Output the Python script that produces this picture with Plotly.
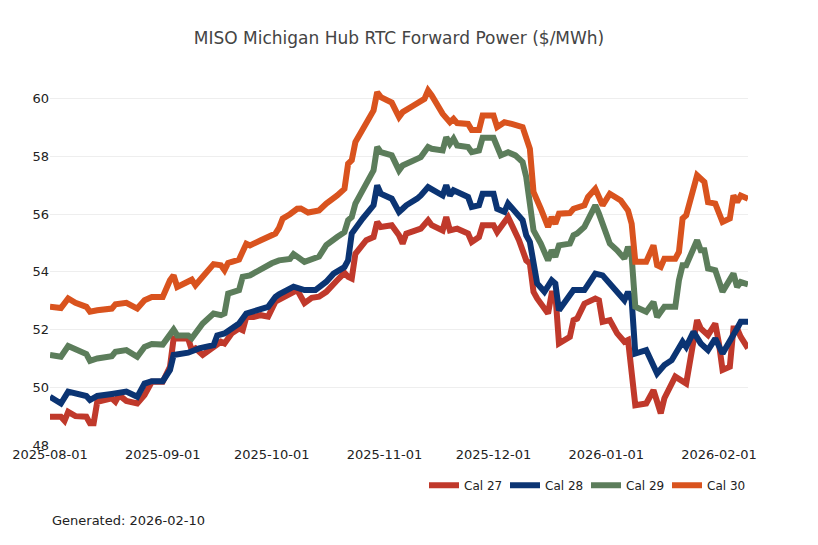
import plotly.graph_objects as go

# ---- data ----
dates_cal27 = ["2025-08-01","2025-08-04","2025-08-05","2025-08-06","2025-08-08","2025-08-11","2025-08-12","2025-08-13",
    "2025-08-14","2025-08-18","2025-08-19","2025-08-20","2025-08-22","2025-08-25","2025-08-27","2025-08-29",
    "2025-09-01","2025-09-03","2025-09-04","2025-09-08","2025-09-09","2025-09-10","2025-09-12","2025-09-15",
    "2025-09-17","2025-09-18","2025-09-20","2025-09-22","2025-09-23","2025-09-24","2025-09-26","2025-09-28",
    "2025-09-30","2025-10-02","2025-10-06","2025-10-08","2025-10-10","2025-10-12","2025-10-14","2025-10-16",
    "2025-10-19","2025-10-21","2025-10-22","2025-10-23","2025-10-24","2025-10-27","2025-10-29","2025-10-30",
    "2025-10-31","2025-11-03","2025-11-05","2025-11-06","2025-11-07","2025-11-11","2025-11-13","2025-11-14",
    "2025-11-17","2025-11-18","2025-11-19","2025-11-21","2025-11-24","2025-11-25","2025-11-27","2025-11-28",
    "2025-12-01","2025-12-02","2025-12-05","2025-12-08","2025-12-10","2025-12-11","2025-12-12","2025-12-13",
    "2025-12-16","2025-12-17","2025-12-18","2025-12-19","2025-12-22","2025-12-23","2025-12-24","2025-12-26",
    "2025-12-29","2025-12-30","2025-12-31","2026-01-02","2026-01-04","2026-01-06","2026-01-07","2026-01-09",
    "2026-01-12","2026-01-14","2026-01-16","2026-01-17","2026-01-20","2026-01-22","2026-01-23","2026-01-26",
    "2026-01-27","2026-01-29","2026-01-31","2026-02-01","2026-02-02","2026-02-04","2026-02-05","2026-02-06",
    "2026-02-07","2026-02-09"]
cal27 = [48.98,48.98,48.84,49.15,49.00,48.98,48.75,48.75,
    49.50,49.62,49.50,49.73,49.53,49.44,49.73,50.19,
    50.19,50.71,51.69,51.69,51.29,51.35,51.12,51.40,
    51.58,51.52,51.87,52.04,51.98,52.44,52.44,52.50,
    52.45,52.97,53.20,53.37,52.92,53.10,53.14,53.31,
    53.71,53.97,53.83,53.77,54.63,55.10,55.21,55.73,
    55.56,55.62,55.27,54.98,55.33,55.50,55.79,55.62,
    55.44,55.90,55.44,55.50,55.33,55.04,55.21,55.62,
    55.62,55.38,55.90,55.10,54.40,54.29,53.31,53.08,
    52.56,53.25,53.25,51.52,51.75,52.33,52.38,52.90,
    53.08,53.02,52.27,52.33,51.87,51.58,51.64,49.38,
    49.44,49.90,49.10,49.62,50.37,50.19,50.13,52.33,
    52.04,51.81,52.21,51.52,50.60,50.71,52.04,52.04,
    51.75,51.35]

dates_cal28 = ["2025-08-01","2025-08-04","2025-08-06","2025-08-08","2025-08-11","2025-08-12","2025-08-14","2025-08-18",
    "2025-08-20","2025-08-22","2025-08-25","2025-08-27","2025-08-29","2025-09-01","2025-09-03","2025-09-04",
    "2025-09-08","2025-09-11","2025-09-15","2025-09-16","2025-09-18","2025-09-20","2025-09-22","2025-09-24",
    "2025-09-26","2025-09-30","2025-10-02","2025-10-03","2025-10-07","2025-10-10","2025-10-13","2025-10-16",
    "2025-10-18","2025-10-21","2025-10-22","2025-10-23","2025-10-26","2025-10-29","2025-10-30","2025-10-31",
    "2025-11-03","2025-11-05","2025-11-06","2025-11-07","2025-11-10","2025-11-11","2025-11-13","2025-11-14",
    "2025-11-17","2025-11-18","2025-11-19","2025-11-20","2025-11-22","2025-11-24","2025-11-25","2025-11-27",
    "2025-11-28","2025-12-01","2025-12-02","2025-12-04","2025-12-05","2025-12-09","2025-12-10","2025-12-11",
    "2025-12-13","2025-12-15","2025-12-17","2025-12-18","2025-12-19","2025-12-23","2025-12-26","2025-12-29",
    "2025-12-31","2026-01-03","2026-01-05","2026-01-06","2026-01-07","2026-01-08","2026-01-09","2026-01-12",
    "2026-01-15","2026-01-17","2026-01-19","2026-01-21","2026-01-22","2026-01-23","2026-01-25","2026-01-27",
    "2026-01-29","2026-01-31","2026-02-02","2026-02-06","2026-02-07","2026-02-09"]
cal28 = [49.67,49.44,49.85,49.77,49.70,49.56,49.70,49.77,
    49.79,49.85,49.67,50.13,50.21,50.21,50.60,51.12,
    51.20,51.35,51.46,51.80,51.87,52.04,52.21,52.56,
    52.62,52.79,53.13,53.22,53.49,53.37,53.37,53.66,
    53.94,54.17,54.40,55.33,55.85,56.31,57.00,56.71,
    56.54,56.08,56.19,56.31,56.54,56.65,56.94,56.88,
    56.65,57.00,56.65,56.83,56.71,56.60,56.25,56.31,
    56.71,56.71,56.19,56.08,56.37,55.79,55.27,55.04,
    53.60,53.31,53.71,53.60,52.67,53.37,53.37,53.94,
    53.88,53.42,53.19,53.02,53.31,53.02,51.17,51.29,
    50.48,50.77,50.94,51.35,51.58,51.40,51.92,51.52,
    51.29,51.69,51.17,52.04,52.27,52.27]

dates_cal29 = ["2025-08-01","2025-08-04","2025-08-06","2025-08-08","2025-08-11","2025-08-12","2025-08-14","2025-08-18",
    "2025-08-19","2025-08-22","2025-08-25","2025-08-27","2025-08-29","2025-09-01","2025-09-03","2025-09-04",
    "2025-09-05","2025-09-08","2025-09-09","2025-09-11","2025-09-12","2025-09-15","2025-09-17","2025-09-18",
    "2025-09-19","2025-09-22","2025-09-23","2025-09-25","2025-09-28","2025-10-01","2025-10-03","2025-10-06",
    "2025-10-07","2025-10-10","2025-10-14","2025-10-16","2025-10-19","2025-10-21","2025-10-22","2025-10-23",
    "2025-10-24","2025-10-27","2025-10-29","2025-10-30","2025-10-31","2025-11-03","2025-11-05","2025-11-06",
    "2025-11-07","2025-11-11","2025-11-13","2025-11-14","2025-11-17","2025-11-18","2025-11-19","2025-11-20",
    "2025-11-21","2025-11-24","2025-11-25","2025-11-27","2025-11-28","2025-12-01","2025-12-03","2025-12-05",
    "2025-12-07","2025-12-09","2025-12-10","2025-12-11","2025-12-12","2025-12-14","2025-12-16","2025-12-17",
    "2025-12-18","2025-12-19","2025-12-22","2025-12-23","2025-12-24","2025-12-26","2025-12-29","2025-12-30",
    "2026-01-02","2026-01-04","2026-01-06","2026-01-07","2026-01-08","2026-01-09","2026-01-12","2026-01-14",
    "2026-01-15","2026-01-17","2026-01-20","2026-01-21","2026-01-22","2026-01-23","2026-01-26","2026-01-27",
    "2026-01-28","2026-01-29","2026-01-31","2026-02-02","2026-02-05","2026-02-06","2026-02-07","2026-02-09"]
cal29 = [51.12,51.06,51.43,51.31,51.15,50.92,51.00,51.08,
    51.23,51.29,51.06,51.40,51.50,51.48,51.80,52.00,
    51.80,51.80,51.70,52.04,52.21,52.56,52.50,52.56,
    53.25,53.37,53.83,53.88,54.12,54.30,54.40,54.45,
    54.62,54.35,54.53,54.93,55.21,55.38,55.79,55.90,
    56.37,57.06,57.52,58.33,58.15,58.04,57.52,57.69,
    57.75,57.98,58.33,58.27,58.21,58.67,58.44,58.62,
    58.38,58.33,58.15,58.21,58.65,58.65,58.04,58.15,
    58.04,57.81,57.29,56.31,55.44,54.98,54.40,54.75,
    54.52,54.92,54.98,55.27,55.33,55.56,56.31,56.02,
    54.98,54.75,54.46,54.87,54.52,52.79,52.62,52.96,
    52.44,52.79,52.79,53.71,54.23,54.23,55.10,54.75,
    54.75,54.12,54.06,53.31,53.94,53.48,53.65,53.57]

dates_cal30 = ["2025-08-01","2025-08-04","2025-08-06","2025-08-08","2025-08-11","2025-08-12","2025-08-14","2025-08-18",
    "2025-08-19","2025-08-22","2025-08-25","2025-08-27","2025-08-29","2025-09-01","2025-09-03","2025-09-04",
    "2025-09-05","2025-09-08","2025-09-09","2025-09-10","2025-09-11","2025-09-12","2025-09-15","2025-09-17",
    "2025-09-18","2025-09-19","2025-09-20","2025-09-22","2025-09-24","2025-09-25","2025-09-28","2025-10-02",
    "2025-10-03","2025-10-04","2025-10-06","2025-10-08","2025-10-09","2025-10-11","2025-10-14","2025-10-16",
    "2025-10-19","2025-10-21","2025-10-22","2025-10-23","2025-10-24","2025-10-27","2025-10-29","2025-10-30",
    "2025-10-31","2025-11-03","2025-11-05","2025-11-06","2025-11-07","2025-11-09","2025-11-12","2025-11-13",
    "2025-11-14","2025-11-17","2025-11-19","2025-11-20","2025-11-21","2025-11-24","2025-11-25","2025-11-27",
    "2025-11-28","2025-12-01","2025-12-02","2025-12-04","2025-12-06","2025-12-09","2025-12-11","2025-12-12",
    "2025-12-14","2025-12-16","2025-12-17","2025-12-18","2025-12-19","2025-12-22","2025-12-23","2025-12-26",
    "2025-12-27","2025-12-29","2025-12-30","2025-12-31","2026-01-02","2026-01-05","2026-01-07","2026-01-08",
    "2026-01-09","2026-01-12","2026-01-14","2026-01-15","2026-01-16","2026-01-17","2026-01-20","2026-01-21",
    "2026-01-22","2026-01-23","2026-01-26","2026-01-28","2026-01-29","2026-01-31","2026-02-02","2026-02-04",
    "2026-02-05","2026-02-06","2026-02-07","2026-02-09"]
cal30 = [52.79,52.75,53.08,52.93,52.79,52.62,52.67,52.73,
    52.88,52.93,52.73,53.02,53.13,53.13,53.71,53.88,
    53.48,53.65,53.73,53.54,53.71,53.83,54.27,54.23,
    54.06,54.31,54.35,54.43,54.98,54.92,55.10,55.33,
    55.53,55.85,56.00,56.19,56.20,56.06,56.13,56.37,
    56.65,56.88,57.75,57.87,58.50,59.13,59.60,60.23,
    60.06,59.87,59.37,59.54,59.60,59.77,60.00,60.29,
    60.12,59.48,59.19,59.31,59.16,59.13,58.92,58.92,
    59.42,59.42,59.02,59.19,59.13,59.02,58.27,56.77,
    56.19,55.56,55.90,55.67,56.02,56.04,56.19,56.31,
    56.60,56.88,56.60,56.31,56.71,56.48,56.13,55.67,
    54.35,54.35,54.92,54.23,54.17,54.46,54.46,54.69,
    55.85,55.96,57.35,57.12,56.42,56.37,55.73,55.85,
    56.65,56.42,56.65,56.54]

series_names = ["Cal 27", "Cal 28", "Cal 29", "Cal 30"]
series_colors = ["#C0392B", "#0B3473", "#5C7D5B", "#D9531E"]
y_ticks = [48, 50, 52, 54, 56, 58, 60]
x_ticks = ["2025-08-01", "2025-09-01", "2025-10-01", "2025-11-01", "2025-12-01", "2026-01-01", "2026-02-01"]

FONT = "DejaVu Sans"
W, H = 810, 537  # page body adds an 8px offset; keep the figure inside the 818x545 window

fig = go.Figure()
for name, color, xs, ys in zip(series_names, series_colors,
                               [dates_cal27, dates_cal28, dates_cal29, dates_cal30],
                               [cal27, cal28, cal29, cal30]):
    fig.add_trace(go.Scatter(x=xs, y=ys, mode="lines", name=name,
                             line=dict(color=color, width=6)))

fig.update_layout(
    width=W, height=H,
    paper_bgcolor="white", plot_bgcolor="white",
    font=dict(family=FONT, size=12, color="#222222"),
    title=dict(text="MISO Michigan Hub RTC Forward Power ($/MWh)", x=0.5, xref="paper",
               xanchor="center", y=1 - 30 / H, yref="container", yanchor="middle",
               font=dict(family=FONT, size=17, color="#444444")),
    margin=dict(l=42, r=70, t=62, b=100),
    showlegend=True,
    legend=dict(orientation="h", x=1, xanchor="right", y=-0.107, yanchor="middle",
                entrywidth=36, entrywidthmode="pixels",
                font=dict(family=FONT, size=12, color="#222222"), bgcolor="rgba(0,0,0,0)"),
    annotations=[dict(text="Generated: 2026-02-10", x=0, xref="paper", xanchor="left",
                      y=-0.2, yref="paper", yanchor="middle", showarrow=False,
                      font=dict(family=FONT, size=13, color="#222222"))],
)
fig.update_xaxes(type="date", range=["2025-08-01", "2026-02-09"], tickvals=x_ticks,
                 ticktext=x_ticks, showgrid=False, zeroline=False, showline=False,
                 automargin=False,
                 tickfont=dict(family=FONT, size=13, color="#222222"))
fig.update_yaxes(range=[48, 61], tickvals=y_ticks, showgrid=True, gridcolor="#eeeeee",
                 gridwidth=1, zeroline=False, showline=False, automargin=False,
                 tickfont=dict(family=FONT, size=13, color="#222222"))

fig.write_html("out.html")
